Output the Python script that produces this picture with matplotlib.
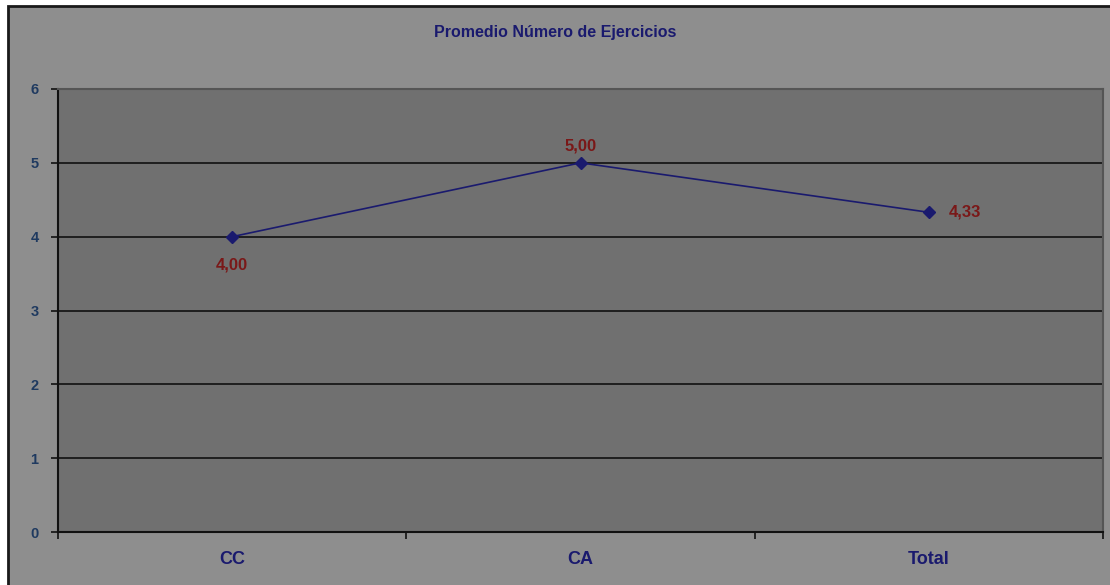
import matplotlib
matplotlib.use('Agg')
import matplotlib.pyplot as plt
from matplotlib.patches import Rectangle

categories = ['CC', 'CA', 'Total']
values = [4.00, 5.00, 4.33]
labels = ['4,00', '5,00', '4,33']
yticks = [0, 1, 2, 3, 4, 5, 6]

plt.rcParams['font.family'] = ['Liberation Sans', 'DejaVu Sans']

fig = plt.figure(figsize=(11.1, 5.85), dpi=100)
fig.patch.set_facecolor('white')
# outer chart area
fig.patches.append(Rectangle((8 / 1110, -0.01), 1.02, (585 - 6) / 585 + 0.01,
                             transform=fig.transFigure, facecolor='#8e8e8e',
                             edgecolor='#1a1a1a', linewidth=2, zorder=-1))

ax = fig.add_axes([58 / 1110, 53 / 585, 1045 / 1110, 443 / 585])
ax.set_facecolor('#707070')

x = list(range(len(categories)))
ax.plot(x, values, color='#1a1a6e', linewidth=1.2, marker='D', markersize=6,
        markerfacecolor='#1a1a6e', markeredgecolor='#1a1a6e', zorder=3)

ax.set_xlim(-0.5, len(categories) - 0.5)
ax.set_ylim(0, 6)
ax.set_yticks(yticks)
ax.set_yticklabels([str(t) for t in yticks], fontsize=10.5, fontweight='bold', color='#1f3a60')
ax.yaxis.grid(True, color='#111111', linewidth=1.2)
ax.set_axisbelow(True)

# tick marks at category boundaries, labels at category centres
ax.set_xticks([i - 0.5 for i in range(len(categories) + 1)])
ax.set_xticklabels([])
ax.set_xticks(x, minor=True)
ax.set_xticklabels(categories, minor=True, fontsize=13, fontweight='bold', color='#1a1a6e')
ax.tick_params(axis='x', which='minor', length=0, pad=14)
ax.tick_params(axis='x', which='major', length=5, width=1.2, color='#111111')
ax.tick_params(axis='y', length=5, width=1.2, color='#111111', pad=9)

for side in ['left', 'bottom']:
    ax.spines[side].set_color('#111111')
    ax.spines[side].set_linewidth(1.5)
for side in ['top', 'right']:
    ax.spines[side].set_color('#555555')
    ax.spines[side].set_linewidth(1.5)

offsets = [(0, -28), (0, 17), (36, 0)]
for xi, v, lab, off in zip(x, values, labels, offsets):
    ax.annotate(lab, (xi, v), xytext=off, textcoords='offset pixels',
                ha='center', va='center', fontsize=12, fontweight='bold', color='#7a1818')

fig.text(0.5, (585 - 32) / 585, 'Promedio Número de Ejercicios', ha='center', va='center',
         fontsize=11.5, fontweight='bold', color='#1a1a6e')

fig.savefig('out.png', dpi=100)
